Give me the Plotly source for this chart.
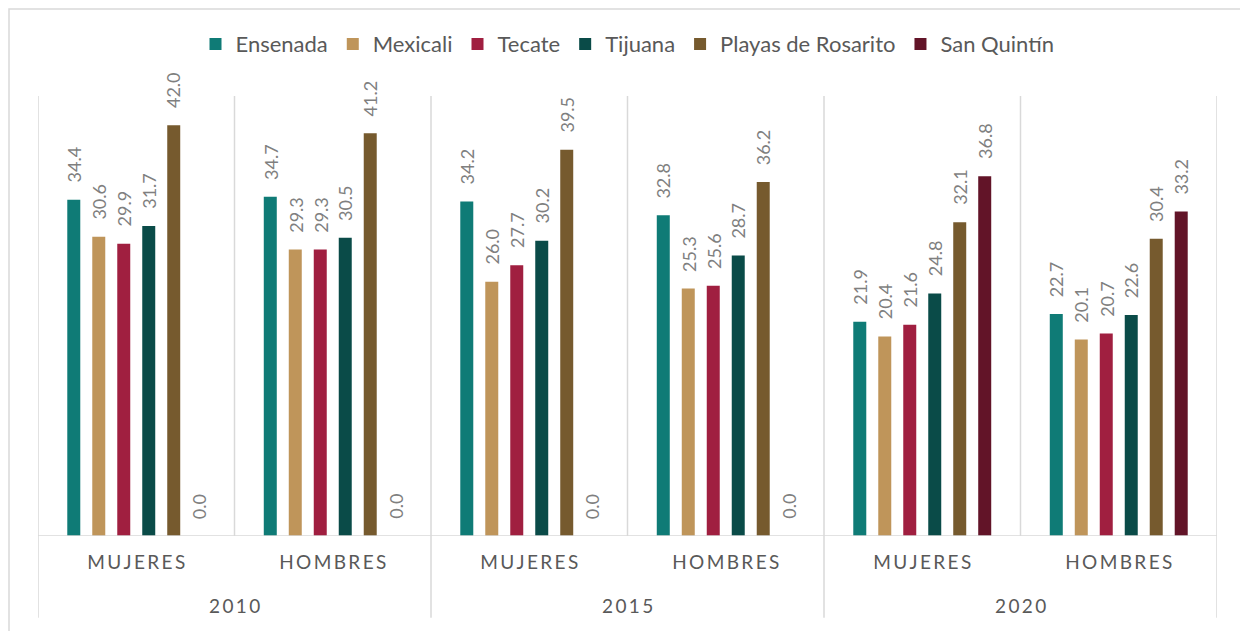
import plotly.graph_objects as go

years = ["2010", "2010", "2015", "2015", "2020", "2020"]
sexes = ["MUJERES", "HOMBRES", "MUJERES", "HOMBRES", "MUJERES", "HOMBRES"]
municipios = ["Ensenada", "Mexicali", "Tecate", "Tijuana", "Playas de Rosarito", "San Quintín"]
ensenada = [34.4, 34.7, 34.2, 32.8, 21.9, 22.7]
mexicali = [30.6, 29.3, 26.0, 25.3, 20.4, 20.1]
tecate = [29.9, 29.3, 27.7, 25.6, 21.6, 20.7]
tijuana = [31.7, 30.5, 30.2, 28.7, 24.8, 22.6]
rosarito = [42.0, 41.2, 39.5, 36.2, 32.1, 30.4]
san_quintin = [0.0, 0.0, 0.0, 0.0, 36.8, 33.2]
colors = ["#0F7B76", "#BF955A", "#A01F40", "#0A4B48", "#765A2E", "#621428"]

series = [ensenada, mexicali, tecate, tijuana, rosarito, san_quintin]
cats = [f"{y}-{s}" for y, s in zip(years, sexes)]
spaced = lambda t: "\u2009".join(list(t))

BARGAP = 0.237
fig = go.Figure()
for name, vals, col in zip(municipios, series, colors):
    fig.add_trace(go.Bar(x=cats, y=vals, name=name, marker=dict(color=col, line=dict(width=0)),
                         hoverinfo="x+y+name"))

annotations = []
n = len(series)
slot = (1 - BARGAP) / n
for i, vals in enumerate(series):
    for j, v in enumerate(vals):
        xpos = j - (1 - BARGAP) / 2 + (i + 0.5) * slot
        annotations.append(dict(x=xpos, y=v, xref="x", yref="y", text=f"{v:.1f}", showarrow=False,
                                textangle=-90, xanchor="center", yanchor="bottom", yshift=15,
                                font=dict(family="Lato", size=18, color="#7F7F7F")))

uniq_years = ["2010", "2015", "2020"]
for k, y in enumerate(uniq_years):
    annotations.append(dict(x=2 * k + 0.5, y=-0.157, xref="x", yref="paper", text=spaced(y),
                            showarrow=False, xanchor="center", yanchor="middle",
                            font=dict(family="Lato", size=19, color="#595959")))

shapes = []
grid = "#D9D9D9"
for b in range(len(cats) + 1):
    x = b - 0.5
    y0 = -0.186 if b % 2 == 0 else 0
    shapes.append(dict(type="line", xref="x", yref="paper", x0=x, x1=x, y0=y0, y1=1,
                       line=dict(color=grid, width=1.5)))
shapes.append(dict(type="line", xref="x", yref="y", x0=-0.5, x1=len(cats) - 0.5, y0=0, y1=0,
                   line=dict(color=grid, width=1.5)))
# outer chart border
shapes.append(dict(type="rect", xref="paper", yref="paper", x0=-0.0246, x1=1.05, y0=-0.3, y1=1.1977,
                   line=dict(color=grid, width=1.5), fillcolor="rgba(0,0,0,0)"))

fig.update_layout(
    width=1240, height=623,
    margin=dict(l=30, r=31, t=88, b=95),
    paper_bgcolor="white", plot_bgcolor="white",
    barmode="group", bargap=BARGAP, bargroupgap=0.48,
    font=dict(family="Lato", color="#595959"),
    legend=dict(orientation="h", x=0.5, xanchor="center", y=1.118, yanchor="middle",
                font=dict(family="Lato", size=22, color="#595959"), itemclick=False),
    xaxis=dict(type="category", tickmode="array", tickvals=cats, ticktext=[spaced(s) for s in sexes],
               showgrid=False, showline=False, ticks="", zeroline=False,
               tickfont=dict(family="Lato", size=19, color="#595959"), ticklabelstandoff=13,
               range=[-0.5, len(cats) - 0.5]),
    yaxis=dict(range=[0, 45], showgrid=False, showticklabels=False, zeroline=False, showline=False,
               ticks=""),
    annotations=annotations, shapes=shapes,
    showlegend=True,
)

fig.write_html("out.html")
